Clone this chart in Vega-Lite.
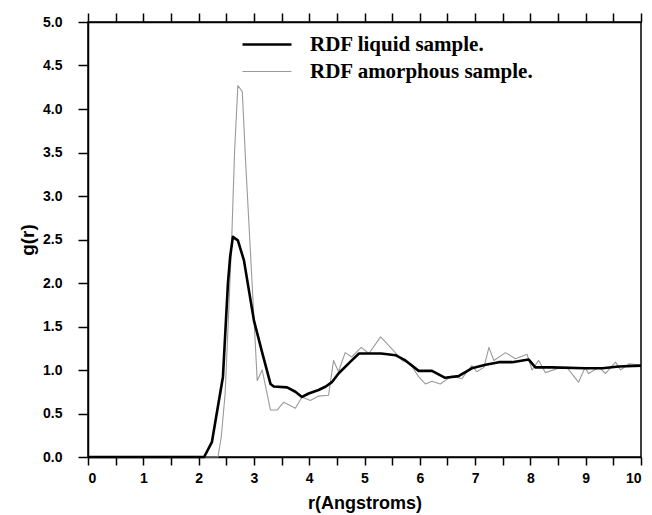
{
  "$schema": "https://vega.github.io/schema/vega-lite/v6.json",
  "width": 553,
  "height": 435,
  "autosize": {"type": "none"},
  "padding": {"left": 88, "top": 22, "right": 11, "bottom": 58},
  "background": "white",
  "config": {
    "view": {"stroke": "black", "strokeWidth": 1.5},
    "axis": {
      "domainColor": "black", "domainWidth": 1.5, "tickColor": "black", "tickWidth": 1.5,
      "labelFont": "Liberation Sans", "labelFontWeight": "bold", "labelFontSize": 14, "labelColor": "black",
      "titleFont": "Liberation Sans", "titleFontWeight": "bold", "titleFontSize": 18, "titleColor": "black",
      "grid": false
    },
    "legend": {
      "title": null, "padding": 0, "symbolType": "stroke", "symbolSize": 2401, "labelOffset": 17,
      "rowPadding": 0, "clipHeight": 27, "labelLimit": 400,
      "labelFont": "Liberation Serif", "labelFontWeight": "bold", "labelFontSize": 21, "labelColor": "black"
    }
  },
  "datasets": {
    "rdf": [
      {"series": "RDF liquid sample.", "r": 0, "g": 0},
      {"series": "RDF liquid sample.", "r": 2.1, "g": 0},
      {"series": "RDF liquid sample.", "r": 2.24, "g": 0.17},
      {"series": "RDF liquid sample.", "r": 2.36, "g": 0.62},
      {"series": "RDF liquid sample.", "r": 2.44, "g": 0.92},
      {"series": "RDF liquid sample.", "r": 2.53, "g": 1.99},
      {"series": "RDF liquid sample.", "r": 2.57, "g": 2.3},
      {"series": "RDF liquid sample.", "r": 2.62, "g": 2.53},
      {"series": "RDF liquid sample.", "r": 2.71, "g": 2.49},
      {"series": "RDF liquid sample.", "r": 2.82, "g": 2.26},
      {"series": "RDF liquid sample.", "r": 3.0, "g": 1.57},
      {"series": "RDF liquid sample.", "r": 3.15, "g": 1.2},
      {"series": "RDF liquid sample.", "r": 3.3, "g": 0.84},
      {"series": "RDF liquid sample.", "r": 3.36, "g": 0.81},
      {"series": "RDF liquid sample.", "r": 3.6, "g": 0.8},
      {"series": "RDF liquid sample.", "r": 3.75, "g": 0.75},
      {"series": "RDF liquid sample.", "r": 3.87, "g": 0.69},
      {"series": "RDF liquid sample.", "r": 3.99, "g": 0.73},
      {"series": "RDF liquid sample.", "r": 4.17, "g": 0.77},
      {"series": "RDF liquid sample.", "r": 4.3, "g": 0.81},
      {"series": "RDF liquid sample.", "r": 4.41, "g": 0.86},
      {"series": "RDF liquid sample.", "r": 4.53, "g": 0.96},
      {"series": "RDF liquid sample.", "r": 4.77, "g": 1.11},
      {"series": "RDF liquid sample.", "r": 4.9, "g": 1.19},
      {"series": "RDF liquid sample.", "r": 5.08, "g": 1.19},
      {"series": "RDF liquid sample.", "r": 5.3, "g": 1.19},
      {"series": "RDF liquid sample.", "r": 5.56, "g": 1.17},
      {"series": "RDF liquid sample.", "r": 5.74, "g": 1.11},
      {"series": "RDF liquid sample.", "r": 5.98, "g": 0.99},
      {"series": "RDF liquid sample.", "r": 6.22, "g": 0.99},
      {"series": "RDF liquid sample.", "r": 6.46, "g": 0.91},
      {"series": "RDF liquid sample.", "r": 6.7, "g": 0.93},
      {"series": "RDF liquid sample.", "r": 6.94, "g": 1.02},
      {"series": "RDF liquid sample.", "r": 7.19, "g": 1.06},
      {"series": "RDF liquid sample.", "r": 7.43, "g": 1.09},
      {"series": "RDF liquid sample.", "r": 7.67, "g": 1.09},
      {"series": "RDF liquid sample.", "r": 7.97, "g": 1.12},
      {"series": "RDF liquid sample.", "r": 8.09, "g": 1.03},
      {"series": "RDF liquid sample.", "r": 8.39, "g": 1.03},
      {"series": "RDF liquid sample.", "r": 8.99, "g": 1.02},
      {"series": "RDF liquid sample.", "r": 9.3, "g": 1.02},
      {"series": "RDF liquid sample.", "r": 9.6, "g": 1.04},
      {"series": "RDF liquid sample.", "r": 10, "g": 1.05},
      {"series": "RDF amorphous sample.", "r": 0, "g": 0},
      {"series": "RDF amorphous sample.", "r": 2.35, "g": 0},
      {"series": "RDF amorphous sample.", "r": 2.41, "g": 0.23},
      {"series": "RDF amorphous sample.", "r": 2.48, "g": 0.73},
      {"series": "RDF amorphous sample.", "r": 2.54, "g": 1.6},
      {"series": "RDF amorphous sample.", "r": 2.58, "g": 2.22},
      {"series": "RDF amorphous sample.", "r": 2.6, "g": 2.53},
      {"series": "RDF amorphous sample.", "r": 2.65, "g": 3.5},
      {"series": "RDF amorphous sample.", "r": 2.71, "g": 4.27},
      {"series": "RDF amorphous sample.", "r": 2.79, "g": 4.2},
      {"series": "RDF amorphous sample.", "r": 2.85, "g": 3.4},
      {"series": "RDF amorphous sample.", "r": 2.91, "g": 2.68},
      {"series": "RDF amorphous sample.", "r": 3.0, "g": 1.61},
      {"series": "RDF amorphous sample.", "r": 3.06, "g": 0.88},
      {"series": "RDF amorphous sample.", "r": 3.15, "g": 1.0},
      {"series": "RDF amorphous sample.", "r": 3.3, "g": 0.54},
      {"series": "RDF amorphous sample.", "r": 3.42, "g": 0.54},
      {"series": "RDF amorphous sample.", "r": 3.54, "g": 0.63},
      {"series": "RDF amorphous sample.", "r": 3.75, "g": 0.56},
      {"series": "RDF amorphous sample.", "r": 3.87, "g": 0.69},
      {"series": "RDF amorphous sample.", "r": 4.02, "g": 0.65},
      {"series": "RDF amorphous sample.", "r": 4.17, "g": 0.7},
      {"series": "RDF amorphous sample.", "r": 4.35, "g": 0.71},
      {"series": "RDF amorphous sample.", "r": 4.44, "g": 1.11},
      {"series": "RDF amorphous sample.", "r": 4.53, "g": 0.98},
      {"series": "RDF amorphous sample.", "r": 4.65, "g": 1.2},
      {"series": "RDF amorphous sample.", "r": 4.77, "g": 1.15},
      {"series": "RDF amorphous sample.", "r": 4.94, "g": 1.26},
      {"series": "RDF amorphous sample.", "r": 5.08, "g": 1.19},
      {"series": "RDF amorphous sample.", "r": 5.29, "g": 1.38},
      {"series": "RDF amorphous sample.", "r": 5.5, "g": 1.24},
      {"series": "RDF amorphous sample.", "r": 5.68, "g": 1.11},
      {"series": "RDF amorphous sample.", "r": 5.83, "g": 1.07},
      {"series": "RDF amorphous sample.", "r": 5.98, "g": 0.92},
      {"series": "RDF amorphous sample.", "r": 6.1, "g": 0.84},
      {"series": "RDF amorphous sample.", "r": 6.22, "g": 0.87},
      {"series": "RDF amorphous sample.", "r": 6.37, "g": 0.84},
      {"series": "RDF amorphous sample.", "r": 6.58, "g": 0.93},
      {"series": "RDF amorphous sample.", "r": 6.76, "g": 0.9},
      {"series": "RDF amorphous sample.", "r": 6.94, "g": 1.05},
      {"series": "RDF amorphous sample.", "r": 7.03, "g": 0.98},
      {"series": "RDF amorphous sample.", "r": 7.16, "g": 1.03},
      {"series": "RDF amorphous sample.", "r": 7.25, "g": 1.26},
      {"series": "RDF amorphous sample.", "r": 7.34, "g": 1.11},
      {"series": "RDF amorphous sample.", "r": 7.55, "g": 1.2},
      {"series": "RDF amorphous sample.", "r": 7.73, "g": 1.13},
      {"series": "RDF amorphous sample.", "r": 7.94, "g": 1.18},
      {"series": "RDF amorphous sample.", "r": 8.03, "g": 1.0},
      {"series": "RDF amorphous sample.", "r": 8.15, "g": 1.11},
      {"series": "RDF amorphous sample.", "r": 8.27, "g": 0.97},
      {"series": "RDF amorphous sample.", "r": 8.51, "g": 1.02},
      {"series": "RDF amorphous sample.", "r": 8.66, "g": 1.03},
      {"series": "RDF amorphous sample.", "r": 8.87, "g": 0.86},
      {"series": "RDF amorphous sample.", "r": 8.99, "g": 1.03},
      {"series": "RDF amorphous sample.", "r": 9.05, "g": 0.96},
      {"series": "RDF amorphous sample.", "r": 9.24, "g": 1.03},
      {"series": "RDF amorphous sample.", "r": 9.36, "g": 0.96},
      {"series": "RDF amorphous sample.", "r": 9.54, "g": 1.09},
      {"series": "RDF amorphous sample.", "r": 9.63, "g": 1.0},
      {"series": "RDF amorphous sample.", "r": 9.78, "g": 1.07},
      {"series": "RDF amorphous sample.", "r": 9.96, "g": 1.06}
    ]
  },
  "data": {"name": "rdf"},
  "resolve": {"axis": {"x": "independent"}},
  "layer": [
    {
      "transform": [{"filter": "datum.series === 'RDF amorphous sample.'"}],
      "mark": {"type": "line", "strokeJoin": "round"},
      "encoding": {
        "x": {"field": "r", "type": "quantitative", "scale": {"domain": [0, 10], "nice": false},
              "axis": {"orient": "top", "title": null, "labels": false, "tickSize": 9,
                       "values": [0,0.5,1,1.5,2,2.5,3,3.5,4,4.5,5,5.5,6,6.5,7,7.5,8,8.5,9,9.5,10],
                       "encode": {"ticks": {"update": {"y2": {"signal": "datum.value % 1 === 0 ? -9 : -4"}}}}}},
        "y": {"field": "g", "type": "quantitative", "scale": {"domain": [0, 5], "nice": false},
              "axis": {"title": "g(r)", "titlePadding": 5, "labelPadding": 16, "titleFontSize": 19, "tickSize": 10,
                       "values": [0,0.25,0.5,0.75,1,1.25,1.5,1.75,2,2.25,2.5,2.75,3,3.25,3.5,3.75,4,4.25,4.5,4.75,5],
                       "labelExpr": "(datum.value*2) % 1 === 0 ? format(datum.value, '.1f') : ''",
                       "encode": {"ticks": {"update": {"x2": {"signal": "(datum.value*2) % 1 === 0 ? -10 : -5"}}},
                                  "labels": {"update": {"dx": {"value": -10}}}}}},
        "color": {"field": "series", "type": "nominal",
                  "scale": {"domain": ["RDF liquid sample.", "RDF amorphous sample."], "range": ["black", "#9a9a9a"]},
                  "legend": {"orient": "none", "legendX": 153, "legendY": 9}},
        "strokeWidth": {"field": "series", "type": "nominal",
                  "scale": {"domain": ["RDF liquid sample.", "RDF amorphous sample."], "range": [2.6, 1.1]},
                  "legend": {"orient": "none", "legendX": 153, "legendY": 9}}
      }
    },
    {
      "transform": [{"filter": "datum.series === 'RDF liquid sample.'"}],
      "mark": {"type": "line", "strokeJoin": "round"},
      "encoding": {
        "x": {"field": "r", "type": "quantitative",
              "axis": {"orient": "bottom", "title": "r(Angstroms)", "titlePadding": 9, "labelPadding": 6, "tickSize": 8,
                       "values": [0,0.5,1,1.5,2,2.5,3,3.5,4,4.5,5,5.5,6,6.5,7,7.5,8,8.5,9,9.5,10],
                       "labelExpr": "datum.value % 1 === 0 ? format(datum.value, 'd') : ''",
                       "encode": {"ticks": {"update": {"y2": {"signal": "datum.value % 1 === 0 ? 8 : 4"}}}}}},
        "y": {"field": "g", "type": "quantitative"},
        "color": {"field": "series", "type": "nominal"},
        "strokeWidth": {"field": "series", "type": "nominal"}
      }
    }
  ]
}
